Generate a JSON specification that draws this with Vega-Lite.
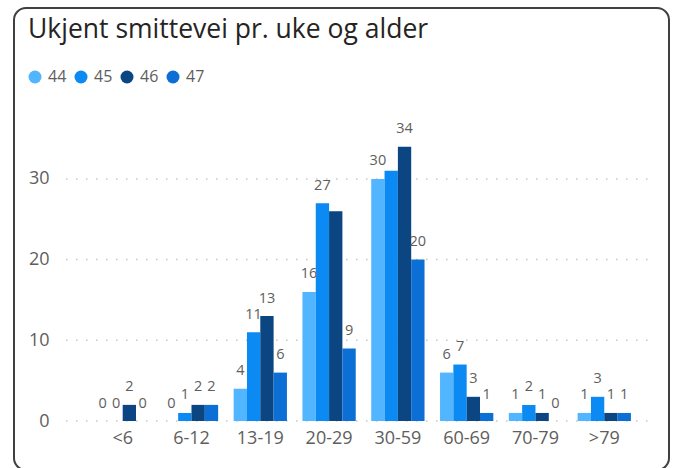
{
  "$schema": "https://vega.github.io/schema/vega-lite/v6.json",
  "width": 655,
  "height": 462,
  "autosize": {"type": "none"},
  "padding": {"top": 8, "left": 14, "right": 6, "bottom": -2},
  "background": "white",
  "config": {
    "font": "Open Sans",
    "view": {"stroke": "#404040", "strokeWidth": 2, "cornerRadius": 12, "fill": "white"}
  },
  "title": {
    "text": "Ukjent smittevei pr. uke og alder",
    "anchor": "start",
    "frame": "group",
    "fontSize": 26.5,
    "fontWeight": "normal",
    "color": "#252423",
    "font": "Open Sans",
    "baseline": "alphabetic",
    "offset": -30.5,
    "dx": 14,
    "dy": 25.5
  },
  "datasets": {
    "bars": [
      {"age": "<6", "week": "44", "value": 0},
      {"age": "<6", "week": "45", "value": 0},
      {"age": "<6", "week": "46", "value": 2},
      {"age": "<6", "week": "47", "value": 0},
      {"age": "6-12", "week": "44", "value": 0},
      {"age": "6-12", "week": "45", "value": 1},
      {"age": "6-12", "week": "46", "value": 2},
      {"age": "6-12", "week": "47", "value": 2},
      {"age": "13-19", "week": "44", "value": 4},
      {"age": "13-19", "week": "45", "value": 11},
      {"age": "13-19", "week": "46", "value": 13},
      {"age": "13-19", "week": "47", "value": 6},
      {"age": "20-29", "week": "44", "value": 16},
      {"age": "20-29", "week": "45", "value": 27},
      {"age": "20-29", "week": "46", "value": 26},
      {"age": "20-29", "week": "47", "value": 9},
      {"age": "30-59", "week": "44", "value": 30},
      {"age": "30-59", "week": "45", "value": 31},
      {"age": "30-59", "week": "46", "value": 34},
      {"age": "30-59", "week": "47", "value": 20},
      {"age": "60-69", "week": "44", "value": 6},
      {"age": "60-69", "week": "45", "value": 7},
      {"age": "60-69", "week": "46", "value": 3},
      {"age": "60-69", "week": "47", "value": 1},
      {"age": "70-79", "week": "44", "value": 1},
      {"age": "70-79", "week": "45", "value": 2},
      {"age": "70-79", "week": "46", "value": 1},
      {"age": "70-79", "week": "47", "value": 0},
      {"age": ">79", "week": "44", "value": 1},
      {"age": ">79", "week": "45", "value": 3},
      {"age": ">79", "week": "46", "value": 1},
      {"age": ">79", "week": "47", "value": 1}
    ],
    "grid": [{"v": 0}, {"v": 10}, {"v": 20}, {"v": 30}]
  },
  "layer": [
    {
      "data": {"name": "grid"},
      "mark": {"type": "rule", "strokeDash": [1.5, 8.5], "strokeWidth": 1.5, "color": "#C8C6C4"},
      "encoding": {
        "y": {"field": "v", "type": "quantitative"},
        "x": {"datum": "<6", "type": "nominal", "bandPosition": -0.563},
        "x2": {"datum": ">79", "bandPosition": 1.43}
      }
    },
    {
      "data": {"name": "bars"},
      "mark": {"type": "bar"},
      "encoding": {
        "x": {
          "field": "age", "type": "nominal",
          "scale": {"domain": ["<6", "6-12", "13-19", "20-29", "30-59", "60-69", "70-79", ">79"],
                    "paddingInner": 0.2253, "paddingOuter": 0.873, "align": 0.683},
          "axis": {"orient": "bottom", "offset": -49, "domain": false, "ticks": false, "labelPadding": 17,
                   "labelFontSize": 18, "labelColor": "#605E5C", "title": null, "labelAngle": 0, "grid": false,
                   "bandPosition": 0.5, "labelAlign": "center"}
        },
        "xOffset": {"field": "week", "type": "nominal", "scale": {"paddingInner": 0, "paddingOuter": 0}},
        "y": {
          "field": "value", "type": "quantitative",
          "scale": {"domain": [-6.07, 51.18], "zero": false, "nice": false},
          "axis": {"values": [0, 10, 20, 30], "grid": false, "domain": false, "ticks": false, "offset": -36,
                   "labelPadding": 1, "labelFontSize": 18, "labelColor": "#605E5C", "title": null}
        },
        "y2": {"datum": 0},
        "color": {
          "field": "week", "type": "nominal",
          "scale": {"domain": ["44", "45", "46", "47"], "range": ["#52B5FF", "#0A8AF2", "#0B4582", "#0C6FD5"]},
          "legend": {"orient": "none", "legendX": 13, "legendY": 61, "direction": "horizontal", "title": null,
                     "symbolType": "circle", "symbolSize": 169, "symbolStrokeWidth": 0, "labelFontSize": 16,
                     "labelColor": "#605E5C", "labelOffset": 5, "columnPadding": 6}
        }
      }
    },
    {
      "data": {"name": "bars"},
      "transform": [
        {"filter": "!((datum.age == '20-29' && datum.week == '46') || (datum.age == '30-59' && datum.week == '45'))"}
      ],
      "mark": {"type": "text", "dy": -13.5, "baseline": "alphabetic", "fontSize": 14.5, "color": "#605E5C"},
      "encoding": {
        "x": {"field": "age", "type": "nominal"},
        "xOffset": {"field": "week", "type": "nominal"},
        "y": {"field": "value", "type": "quantitative"},
        "text": {"field": "value", "type": "quantitative"}
      }
    }
  ]
}
